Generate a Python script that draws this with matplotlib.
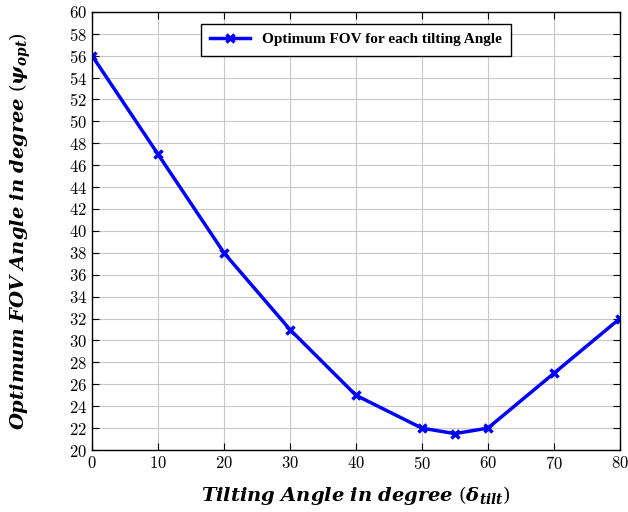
import numpy as np
import matplotlib
matplotlib.use("Agg")
import matplotlib.pyplot as plt

tilt = [0, 10, 20, 30, 40, 50, 55, 60, 70, 80]
fov = [56, 47, 38, 31, 25, 22, 21.5, 22, 27, 32]

plt.rcParams['font.family'] = 'cmr10'
plt.rcParams['mathtext.fontset'] = 'custom'
plt.rcParams['mathtext.rm'] = 'DejaVu Serif'
plt.rcParams['mathtext.it'] = 'DejaVu Serif:italic'
plt.rcParams['mathtext.bf'] = 'DejaVu Serif:bold'
plt.rcParams['mathtext.bfit'] = 'DejaVu Serif:italic:bold'
plt.rcParams['axes.formatter.use_mathtext'] = True

fig = plt.figure(figsize=(6.28, 5.12), dpi=100)
ax = fig.add_axes([0.1465, 0.121, 0.8405, 0.856])

ax.plot(tilt, fov, color='blue', linewidth=2.5, marker='x', markersize=6,
        markeredgewidth=2.5, label='Optimum FOV for each tilting Angle')

ax.set_xlim(0, 80)
ax.set_ylim(20, 60)
ax.set_xticks(np.arange(0, 81, 10))
ax.set_yticks(np.arange(20, 61, 2))
ax.grid(True, color='#c8c8c8', linewidth=0.8)
ax.tick_params(direction='in', top=True, right=True, labelsize=12, length=5)
for s in ax.spines.values():
    s.set_linewidth(1.0)

ax.set_xlabel(r'$\mathbfit{Tilting\ Angle\ in\ degree}\ (\mathbfit{\delta_{tilt}})$',
              fontsize=14, labelpad=9)
ax.set_ylabel(r'$\mathbfit{Optimum\ FOV\ Angle\ in\ degree}\ (\mathbfit{\psi_{opt}})$',
              fontsize=14, labelpad=26)

leg = ax.legend(loc='upper center', bbox_to_anchor=(0.5, 0.973), borderaxespad=0,
                fancybox=False, edgecolor='black', framealpha=1, handlelength=2.6,
                borderpad=0.6,
                prop={'family': 'Liberation Serif', 'weight': 'bold', 'size': 11})
leg.get_frame().set_linewidth(1.0)

fig.savefig('out.png', dpi=100)
